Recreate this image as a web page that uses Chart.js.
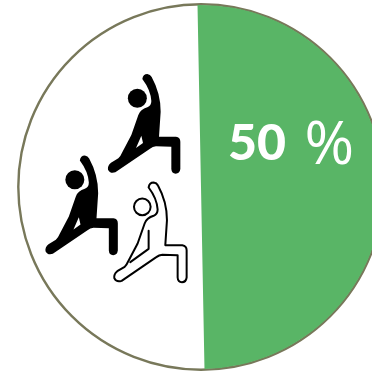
<!DOCTYPE html>
<html>
<head>
<meta charset="utf-8">
<style>
html,body{margin:0;padding:0;width:372px;height:372px;overflow:hidden;background:#fff}
#wrap{position:absolute;left:0;top:0;width:372px;height:372px;overflow:hidden}
canvas{display:block}
</style>
<script src="https://cdn.jsdelivr.net/npm/chart.js@4"></script>
</head>
<body>
<div id="wrap"><canvas id="c" width="402" height="374"></canvas></div>
<script>
const categories = ['Active', 'Inactive'];
const shares = [50, 50];
const sliceColors = ['#59b566', 'rgba(255,255,255,0)'];
const valueLabel = '50';
const unitLabel = '%';

// Rim of the pie, painted under the slices so the green side keeps only a hairline.
const rim = {
  id: 'rim',
  beforeDatasetsDraw(chart) {
    const arc = chart.getDatasetMeta(0).data[0];
    const ctx = chart.ctx;
    ctx.save();
    ctx.beginPath();
    ctx.arc(arc.x, arc.y, arc.outerRadius + 0.7, 0, Math.PI * 2);
    ctx.lineWidth = 2.4;
    ctx.strokeStyle = '#78785a';
    ctx.stroke();
    ctx.restore();
  }
};

// Lunge pose silhouette, drawn in a 3x grid so the curves stay easy to edit.
function lungeOutline(p) {
  p.moveTo(127, 42);
  p.quadraticCurveTo(129, 27, 142, 27);
  p.quadraticCurveTo(151, 28, 155, 36);
  p.quadraticCurveTo(182, 85, 182, 140);
  p.lineTo(177, 215);
  p.lineTo(228, 215);
  p.quadraticCurveTo(241, 217, 241, 230);
  p.lineTo(241, 312);
  p.quadraticCurveTo(239, 326, 227, 326);
  p.quadraticCurveTo(215, 326, 214, 312);
  p.lineTo(214, 245);
  p.lineTo(168, 244);
  p.quadraticCurveTo(158, 245, 150, 251);
  p.lineTo(46, 322);
  p.quadraticCurveTo(30, 327, 24, 314);
  p.quadraticCurveTo(22, 302, 33, 293);
  p.lineTo(55, 280);
  p.quadraticCurveTo(62, 273, 66, 263);
  p.lineTo(94, 210);
  p.lineTo(115, 150);
  p.quadraticCurveTo(121, 133, 142, 127);
  p.quadraticCurveTo(154, 122, 154, 108);
  p.quadraticCurveTo(152, 75, 127, 42);
  p.closePath();
}

function solidFigure(ctx, dx, dy) {
  ctx.save();
  ctx.translate(100 + dx, 65 + dy);
  ctx.scale(1 / 3, 1 / 3);
  ctx.fillStyle = '#000';
  ctx.beginPath(); lungeOutline(ctx); ctx.fill();
  ctx.beginPath(); ctx.arc(112, 100, 28.5, 0, Math.PI * 2); ctx.fill();
  ctx.fillStyle = '#fff';
  ctx.beginPath(); ctx.moveTo(124, 212); ctx.lineTo(108, 249); ctx.lineTo(129, 234); ctx.closePath(); ctx.fill();
  ctx.restore();
}

function outlineFigure(ctx, dx, dy) {
  ctx.save();
  ctx.translate(100 + dx, 65 + dy);
  ctx.scale(1 / 3, 1 / 3);
  ctx.lineJoin = 'round';
  ctx.lineCap = 'round';
  ctx.strokeStyle = '#000';
  ctx.lineWidth = 6;
  ctx.fillStyle = '#fff';
  ctx.beginPath(); lungeOutline(ctx); ctx.fill(); ctx.stroke();
  ctx.beginPath(); ctx.moveTo(127, 172); ctx.lineTo(127, 226); ctx.lineTo(72, 266); ctx.stroke();
  ctx.beginPath(); ctx.arc(108, 100, 25, 0, Math.PI * 2); ctx.fill(); ctx.stroke();
  ctx.restore();
}

const overlay = {
  id: 'overlay',
  afterDatasetsDraw(chart) {
    const ctx = chart.ctx;
    solidFigure(ctx, 0, 0);
    solidFigure(ctx, -62.5, 81.5);
    outlineFigure(ctx, 6.3, 108.5);
    ctx.save();
    ctx.fillStyle = '#fff';
    ctx.textBaseline = 'alphabetic';
    ctx.textAlign = 'left';
    ctx.font = '900 50px Lato';
    ctx.fillText(valueLabel, 228, 160);
    ctx.font = '60px "Open Sans"';
    ctx.fillText(unitLabel, 304.5, 164);
    ctx.restore();
  }
};

new Chart(document.getElementById('c'), {
  type: 'pie',
  data: {
    labels: categories,
    datasets: [{ data: shares, backgroundColor: sliceColors, borderWidth: 0 }]
  },
  options: {
    responsive: false,
    animation: false,
    rotation: -1.1,
    radius: 182,
    layout: { padding: 0 },
    plugins: { legend: { display: false }, tooltip: { enabled: false } }
  },
  plugins: [rim, overlay]
});
</script>
</body>
</html>
